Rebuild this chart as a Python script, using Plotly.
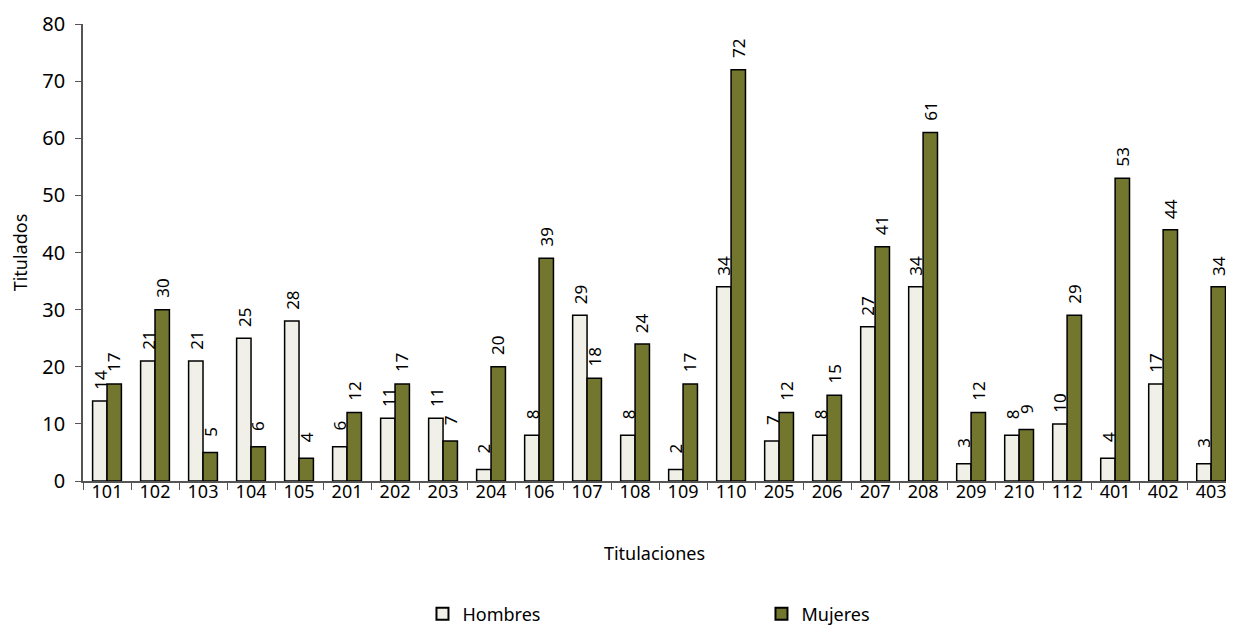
import plotly.graph_objects as go

categorias = ["101", "102", "103", "104", "105", "201", "202", "203", "204", "106", "107", "108",
              "109", "110", "205", "206", "207", "208", "209", "210", "112", "401", "402", "403"]
hombres = [14, 21, 21, 25, 28, 6, 11, 11, 2, 8, 29, 8, 2, 34, 7, 8, 27, 34, 3, 8, 10, 4, 17, 3]
mujeres = [17, 30, 5, 6, 4, 12, 17, 7, 20, 39, 18, 24, 17, 72, 12, 15, 41, 61, 12, 9, 29, 53, 44, 34]

fuente = "Noto Sans"

fig = go.Figure()
fig.add_trace(go.Bar(
    x=categorias, y=hombres, name="Hombres",
    marker=dict(color="#F0F0E8", line=dict(color="black", width=1.5)),
))
fig.add_trace(go.Bar(
    x=categorias, y=mujeres, name="Mujeres",
    marker=dict(color="#72762E", line=dict(color="black", width=1.5)),
))

# value labels, rotated, a little above each bar (x given as category index)
for serie, desplaz in ((hombres, -7.2), (mujeres, 7.2)):
    for i, val in enumerate(serie):
        fig.add_annotation(
            x=i, y=val, text=str(val), textangle=-90, showarrow=False,
            xshift=desplaz, yshift=21, xanchor="center", yanchor="middle",
            font=dict(size=17, color="black", family=fuente),
        )

# the page adds an 8px body margin, so the figure is kept inside the window
fig.update_layout(
    width=1218, height=617,
    margin=dict(l=75, r=0, t=16, b=144, autoexpand=False),
    paper_bgcolor="white", plot_bgcolor="white",
    font=dict(family=fuente, size=18, color="black"),
    barmode="group", bargap=0.4, bargroupgap=0.0,
    showlegend=True,
    legend=dict(orientation="h", x=0.297, xanchor="left", y=-0.291, yanchor="middle",
                entrywidth=294, font=dict(size=18), itemsizing="constant",
                traceorder="normal"),
    xaxis=dict(
        type="category", range=[-0.5, 23.31], automargin=False,
        showline=True, linecolor="#555555", linewidth=1.5,
        ticks="outside", tickson="boundaries", ticklen=7, tickcolor="#555555",
        tickfont=dict(size=18), ticklabelstandoff=-6,
        title=dict(text="Titulaciones", font=dict(size=18), standoff=45),
    ),
    yaxis=dict(
        range=[0, 80], dtick=10, showgrid=False, zeroline=False, automargin=False,
        showline=True, linecolor="#555555", linewidth=1.5,
        ticks="outside", ticklen=6, tickcolor="#555555",
        tickfont=dict(size=20), ticklabelstandoff=6,
        title=dict(text="Titulados", font=dict(size=18), standoff=10),
    ),
)

fig.write_html("out.html")
